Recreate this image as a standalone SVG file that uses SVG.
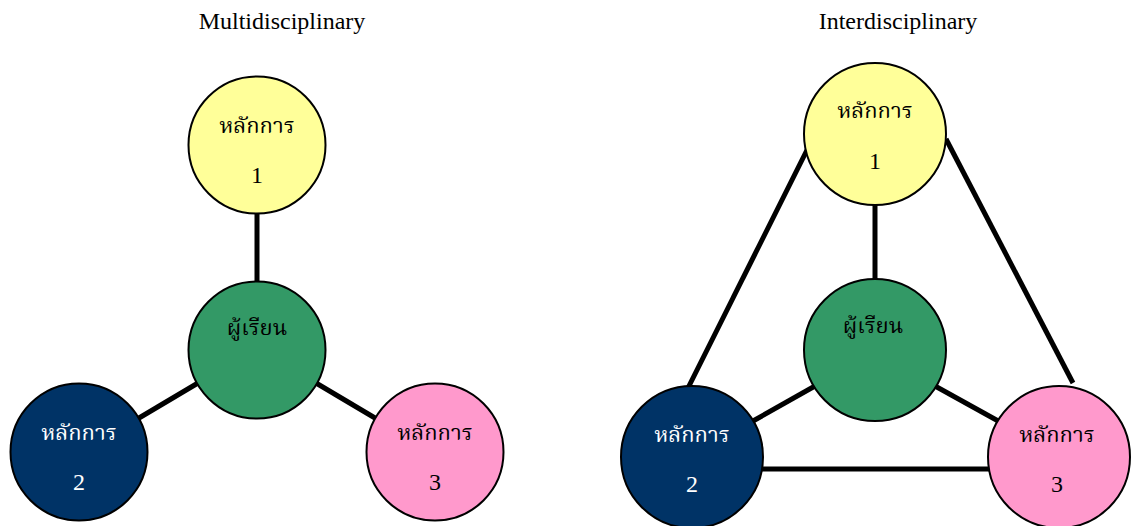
<svg xmlns="http://www.w3.org/2000/svg" width="1134" height="526" viewBox="0 0 1134 526">
<style>
text{font-family:"Liberation Serif","Norasi","Noto Serif Thai","DejaVu Serif",serif;text-anchor:middle}
.t{font-size:24px;fill:#000}
.l{font-size:22px}
.n{font-size:24px}
.c{stroke:#000;stroke-width:2}
.k{fill:#000}
.w{fill:#fff}
.e{stroke:#000;stroke-width:5;fill:none}
</style>
<rect width="1134" height="526" fill="#fff"/>
<text class="t" x="282" y="29">Multidisciplinary</text>
<text class="t" x="898" y="29">Interdisciplinary</text>
<g id="connectors">
<line class="e" x1="257" y1="213" x2="257" y2="283"/>
<line class="e" x1="198" y1="383" x2="139" y2="418"/>
<line class="e" x1="316" y1="383" x2="375" y2="418"/>
<line class="e" x1="875" y1="205" x2="875" y2="279"/>
<line class="e" x1="808" y1="148" x2="688" y2="388"/>
<line class="e" x1="946" y1="139" x2="1073" y2="383"/>
<line class="e" x1="762" y1="469" x2="1000" y2="469"/>
<line class="e" x1="815" y1="386" x2="753" y2="421"/>
<line class="e" x1="935" y1="386" x2="1000" y2="422"/>
</g>
<g id="m1"><circle class="c" cx="257" cy="145" r="68.5" fill="#FFFF99"/><text class="l k" x="257" y="133">หลักการ</text><text class="n k" x="257" y="183">1</text></g>
<g id="mc"><circle class="c" cx="257" cy="350" r="68.5" fill="#339966"/><text class="l k" x="257" y="335">ผู้เรียน</text></g>
<g id="m2"><circle class="c" cx="79" cy="452" r="68.5" fill="#003366"/><text class="l w" x="79" y="440">หลักการ</text><text class="n w" x="79" y="490">2</text></g>
<g id="m3"><circle class="c" cx="435" cy="452" r="68.5" fill="#FF99CC"/><text class="l k" x="435" y="440">หลักการ</text><text class="n k" x="435" y="490">3</text></g>
<g id="i1"><circle class="c" cx="875" cy="134" r="71" fill="#FFFF99"/><text class="l k" x="875" y="118">หลักการ</text><text class="n k" x="875" y="169">1</text></g>
<g id="ic"><circle class="c" cx="875" cy="350" r="71" fill="#339966"/><text class="l k" x="873" y="333">ผู้เรียน</text></g>
<g id="i2"><circle class="c" cx="692" cy="457" r="71" fill="#003366"/><text class="l w" x="692" y="442">หลักการ</text><text class="n w" x="692" y="492">2</text></g>
<g id="i3"><circle class="c" cx="1059" cy="457" r="71" fill="#FF99CC"/><text class="l k" x="1057" y="442">หลักการ</text><text class="n k" x="1057" y="492">3</text></g>
</svg>
